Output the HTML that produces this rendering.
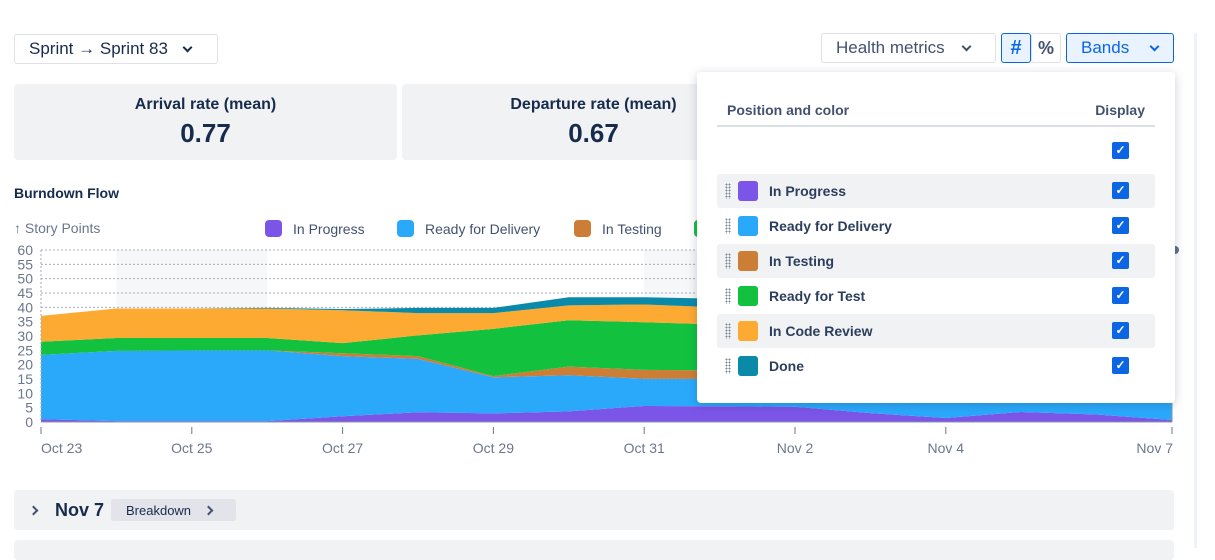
<!DOCTYPE html>
<html><head><meta charset="utf-8">
<style>
*{box-sizing:border-box;margin:0;padding:0}
body{width:1215px;height:548px;overflow:hidden;background:#fff;font-family:"Liberation Sans",sans-serif;color:#172b4d;position:relative}
.btn{position:absolute;border:1px solid #dfe1e6;border-radius:3px;background:#fff;font-size:17px;color:#42526e;display:flex;align-items:center;padding-left:14px}
.chev{display:inline-block;width:7px;height:7px;border-right:2px solid currentColor;border-bottom:2px solid currentColor;transform:rotate(45deg);margin-top:-4px}
.chr{display:inline-block;width:7px;height:7px;border-right:2px solid currentColor;border-bottom:2px solid currentColor;transform:rotate(-45deg)}
.card{position:absolute;top:84px;height:76px;background:#f1f2f4;border-radius:4px;text-align:center}
.card .t{font-size:16px;color:#172b4d;margin-top:12px;font-weight:600}
.card .v{font-size:26px;font-weight:bold;margin-top:4px}
.leg{position:absolute;top:220px;font-size:14px;color:#42526e;display:flex;align-items:center}
.leg i{display:inline-block;width:17px;height:17px;border-radius:4px;margin-right:11px}
.pop{position:absolute;left:697px;top:72px;width:478px;height:331px;background:#fff;border-radius:4px;box-shadow:0 2px 10px rgba(9,30,66,.22)}
.row{position:absolute;left:20px;width:438px;height:34px;border-radius:3px;display:flex;align-items:center;font-size:14px;color:#2c3e5d;font-weight:600}
.row.g{background:#f1f2f4}
.row .h{width:6px;height:16px;margin-left:8px;margin-right:7px;background-image:radial-gradient(#7a869a 0.8px,transparent 1px);background-size:3px 3px}
.row .s{width:20px;height:20px;border-radius:3px;margin-right:11px}
.cb{position:absolute;left:415px;width:17px;height:17px;background:#0c66e4;border-radius:2px;color:#fff;font-size:12px;line-height:17px;text-align:center;font-weight:bold}
</style></head><body>
<div class="btn" style="left:14px;top:34px;width:204px;height:30px;color:#172b4d">Sprint → Sprint 83 <span class="chev" style="margin-left:16px"></span></div>
<div class="btn" style="left:821px;top:33px;width:175px;height:30px">Health metrics <span class="chev" style="margin-left:18px"></span></div>
<div class="btn" style="left:1001px;top:33px;width:30px;height:30px;border-color:#0c66e4;background:#e9f2ff;color:#0c66e4;padding:0;justify-content:center;font-weight:bold;font-size:20px">#</div>
<div class="btn" style="left:1031px;top:33px;width:30px;height:30px;padding:0;justify-content:center;font-weight:bold;font-size:18px">%</div>
<div class="btn" style="left:1066px;top:33px;width:108px;height:30px;border-color:#0c66e4;background:#e9f2ff;color:#0c66e4">Bands <span class="chev" style="margin-left:22px"></span></div>
<div style="position:absolute;left:1194px;top:33px;width:3px;height:515px;background:#eef3fb"></div>

<div class="card" style="left:14px;width:383px"><div class="t">Arrival rate (mean)</div><div class="v">0.77</div></div>
<div class="card" style="left:402px;width:383px"><div class="t">Departure rate (mean)</div><div class="v">0.67</div></div>

<div style="position:absolute;left:14px;top:185px;font-size:14px;font-weight:bold">Burndown Flow</div>
<div style="position:absolute;left:14px;top:220px;font-size:14px;color:#6b778c">↑ Story Points</div>
<div class="leg" style="left:265px"><i style="background:#7b55e8"></i>In Progress</div>
<div class="leg" style="left:397px"><i style="background:#2aa9fb"></i>Ready for Delivery</div>
<div class="leg" style="left:574px"><i style="background:#cd7e36"></i>In Testing</div>
<div class="leg" style="left:694px"><i style="background:#12c23e"></i>Ready for Test</div>

<svg id="chart" width="1215" height="548" style="position:absolute;left:0;top:0;pointer-events:none"></svg>

<div class="pop">
 <div style="position:absolute;left:30px;top:30px;font-size:14px;color:#42526e;font-weight:600">Position and color</div>
 <div style="position:absolute;right:30px;top:30px;font-size:14px;color:#42526e;font-weight:600">Display</div>
 <div style="position:absolute;left:20px;top:53px;width:438px;height:2px;background:#dcdfe4"></div>
 <div class="cb" style="top:70px">✓</div>
 <div id="rows"></div>
</div>

<div style="position:absolute;left:14px;top:490px;width:1160px;height:40px;background:#f1f2f4;border-radius:4px">
 <span class="chr" style="position:absolute;left:16px;top:17px;color:#42526e"></span>
 <span style="position:absolute;left:41px;top:10px;font-size:18px;font-weight:bold">Nov 7</span>
 <span style="position:absolute;left:97px;top:9px;width:125px;height:22px;background:#e2e4e9;border-radius:3px;font-size:13px;padding:4px 0 0 15px">Breakdown <span class="chr" style="margin-left:10px;color:#42526e;margin-bottom:1px"></span></span>
</div>
<div style="position:absolute;left:14px;top:540px;width:1160px;height:20px;background:#f1f2f4;border-radius:4px"></div>

<script>
const dates=["Oct 23","Oct 24","Oct 25","Oct 26","Oct 27","Oct 28","Oct 29","Oct 30","Oct 31","Nov 1","Nov 2","Nov 3","Nov 4","Nov 5","Nov 6","Nov 7"];
const tickLabels=["Oct 23","Oct 25","Oct 27","Oct 29","Oct 31","Nov 2","Nov 4","Nov 7"];
const yTicks=[0,5,10,15,20,25,30,35,40,45,50,55,60];
const seriesNames=["In Progress","Ready for Delivery","In Testing","Ready for Test","In Code Review","Done"];
const seriesColors=["#7b55e8","#2aa9fb","#cd7e36","#12c23e","#fdaa33","#0a8aa8"];
const inProgress=[1,0.3,0.3,0.3,2,3.4,3,3.7,5.6,5.5,5.3,3.1,1.4,3.5,2.6,0.7];
const readyForDelivery=[22.4,24.5,24.7,24.7,21,18.6,12.6,12.6,9.5,9.5,7.7,8.9,8.6,7.5,7.4,8.3];
const inTesting=[0,0,0,0,1,1,0.4,3,3.1,3,2,2,2,2,1.5,1];
const readyForTest=[4.6,4.5,4.3,4.3,3.5,7.2,16.5,16.2,16.6,16,15,14,12,11,10,9];
const inCodeReview=[9,10.3,10.3,10.3,11.5,7.8,5.5,5.2,6.2,6,6,6,6,5,5,4];
const done=[0,0,0,0.2,0.4,1.8,1.8,2.8,2.5,3,4,5,7,8,9,10];
const series=[inProgress,readyForDelivery,inTesting,readyForTest,inCodeReview,done];

const NS="http://www.w3.org/2000/svg";
const svg=document.getElementById('chart');
const X0=41,X1=1172,Y0=422,Y1=250;
function dayIndex(lbl){return dates.indexOf(lbl);}
function xs(i){return X0+(X1-X0)*i/(dates.length-1);}
function ys(v){return Y0-(Y0-Y1)*v/60;}
function mk(t,a){const e=document.createElementNS(NS,t);for(const k in a)e.setAttribute(k,a[k]);svg.appendChild(e);return e;}
[[1,3],[8,10]].forEach(b=>{const r=mk('rect',{x:xs(b[0]),y:Y1,width:xs(b[1])-xs(b[0]),height:Y0-Y1,fill:'#f6f7f8'});

});
yTicks.forEach(v=>{const l=mk('line',{x1:X0,x2:X1,y1:ys(v),y2:ys(v),stroke:'#a5adba','stroke-dasharray':'2,2','stroke-width':1});


const t=mk('text',{x:33,y:ys(v)+5,'text-anchor':'end','font-size':14,fill:'#6b778c','font-family':'Liberation Sans, sans-serif'});t.textContent=v;

});
let base=dates.map(()=>0);
series.forEach((s,k)=>{const top=base.map((b,i)=>b+s[i]);
let d='M'+top.map((v,i)=>xs(i)+','+ys(v)).join(' L');
for(let i=dates.length-1;i>=0;i--)d+=' L'+xs(i)+','+ys(base[i]);
const p=mk('path',{d:d+'Z',fill:seriesColors[k]});


base=top;});
mk('line',{x1:X0,x2:X0,y1:Y1,y2:Y0,stroke:'#a5adba','stroke-dasharray':'2,2'});
mk('line',{x1:X1,x2:X1,y1:Y1,y2:Y0,stroke:'#8c95a3'});
mk('line',{x1:X0,x2:X1,y1:Y0,y2:Y0,stroke:'#8c95a3'});
tickLabels.forEach((lbl,j)=>{const x=xs(dayIndex(lbl));
mk('line',{x1:x,x2:x,y1:427,y2:434,stroke:'#6b778c'});
const t=mk('text',{x:j==0?41:(j==tickLabels.length-1?1173:x),y:453,'text-anchor':j==0?'start':(j==tickLabels.length-1?'end':'middle'),'font-size':14,fill:'#6b778c','font-family':'Liberation Sans, sans-serif'});t.textContent=lbl;

});
mk('circle',{cx:1175,cy:250,r:4,fill:'#626f86'});

const rows=document.getElementById('rows');
seriesNames.forEach((n,i)=>{const r=document.createElement('div');r.className='row'+(i%2==0?' g':'');r.style.top=(102+i*35)+'px';


r.innerHTML='<span class="h"></span><span class="s" style="background:'+seriesColors[i]+'"></span>'+n+'<span class="cb" style="left:395px;top:8px">✓</span>';
rows.appendChild(r);});
</script>
</body></html>
